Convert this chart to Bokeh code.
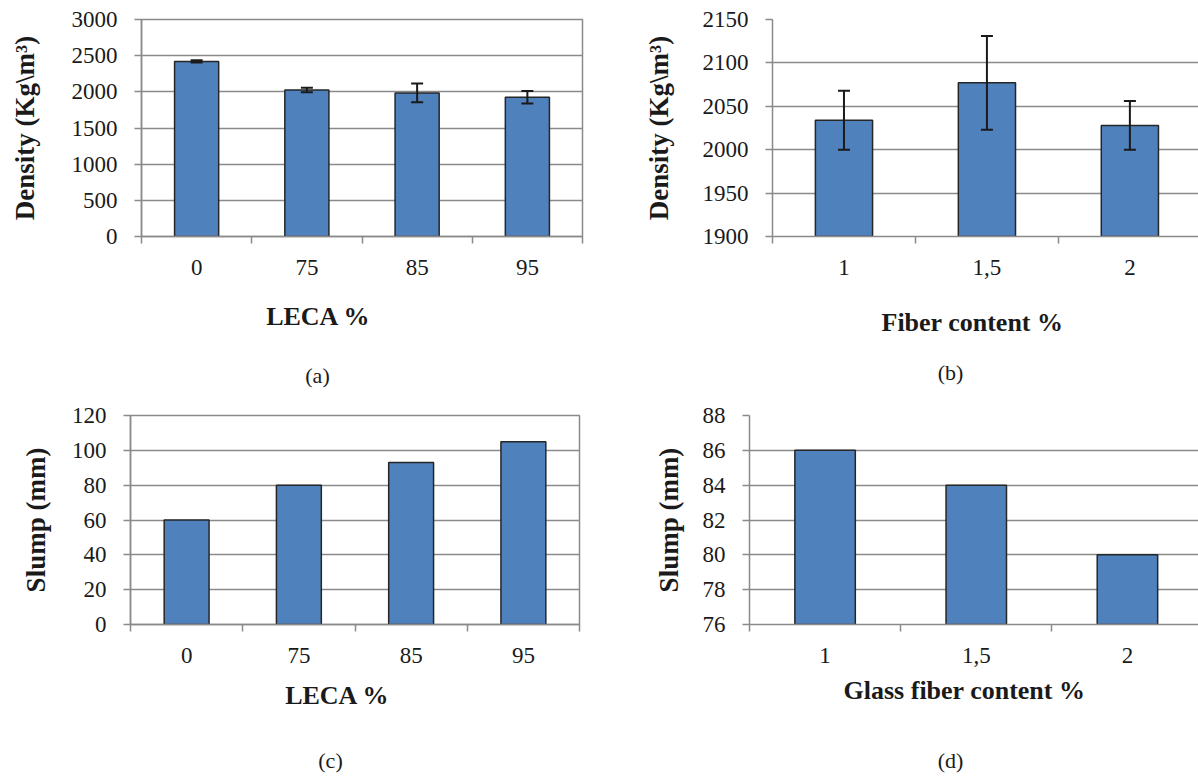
from bokeh.plotting import figure
from bokeh.models import ColumnDataSource, FixedTicker, Whisker, TeeHead, Label, Range1d
from bokeh.layouts import column, row
from bokeh.embed import file_html
from bokeh.resources import INLINE

# ---- data ----
leca_cats = ["0", "75", "85", "95"]
leca_density = [2420, 2025, 1985, 1925]
leca_density_err = [15, 30, 130, 85]
fiber_cats = ["1", "1,5", "2"]
fiber_density = [2034, 2077, 2028]
fiber_density_err = [34, 54, 28]
leca_slump = [60, 80, 93, 105]
glass_slump = [86, 84, 80]

density_a_ticks = [0, 500, 1000, 1500, 2000, 2500, 3000]
density_b_ticks = [1900, 1950, 2000, 2050, 2100, 2150]
slump_c_ticks = [0, 20, 40, 60, 80, 100, 120]
slump_d_ticks = [76, 78, 80, 82, 84, 86, 88]

FONT = "Liberation Serif"
GRID = "#8a8a8a"
BAR = "#4F81BD"
EDGE = "#262626"
TXT = "#1a1a1a"


def chart(cats, vals, yticks, ylabel, errs=None, *,
          fw, fh, bl, bt, br, bb, x_end, ystand, outline):
    p = figure(frame_width=fw, frame_height=fh,
               x_range=Range1d(0, x_end), y_range=Range1d(yticks[0], yticks[-1]),
               output_backend="svg", toolbar_location=None,
               min_border_left=bl, min_border_right=br,
               min_border_top=bt, min_border_bottom=bb)
    p.background_fill_color = "white"
    p.border_fill_color = "white"
    p.outline_line_color = GRID if outline else None
    p.outline_line_width = 1.5

    xs = [i + 0.5 for i in range(len(cats))]
    data = dict(x=xs, top=vals)
    if errs is not None:
        data["upper"] = [v + e for v, e in zip(vals, errs)]
        data["lower"] = [v - e for v, e in zip(vals, errs)]
    src = ColumnDataSource(data)
    p.vbar(x="x", top="top", bottom=yticks[0], width=0.4, source=src,
           fill_color=BAR, line_color=EDGE, line_width=1.5)
    if errs is not None:
        w = Whisker(base="x", upper="upper", lower="lower", source=src, level="overlay",
                    line_color=TXT, line_width=2,
                    upper_head=TeeHead(size=12, line_color=TXT, line_width=2),
                    lower_head=TeeHead(size=12, line_color=TXT, line_width=2))
        p.add_layout(w)

    xa = p.xaxis[0]
    xa.ticker = FixedTicker(ticks=xs, minor_ticks=list(range(len(cats) + 1)))
    xa.major_label_overrides = {x: c for x, c in zip(xs, cats)}
    xa.major_tick_line_color = None
    xa.major_tick_out = 7
    xa.major_tick_in = 0
    xa.minor_tick_out = 7
    xa.minor_tick_in = 0
    xa.minor_tick_line_color = GRID
    xa.minor_tick_line_width = 1.5
    xa.axis_line_color = GRID
    xa.axis_line_width = 1.5
    xa.major_label_standoff = 16
    xa.major_label_text_font = FONT
    xa.major_label_text_font_size = "23px"
    xa.major_label_text_color = TXT

    ya = p.yaxis[0]
    ya.ticker = FixedTicker(ticks=yticks)
    ya.major_tick_out = 7
    ya.major_tick_in = 0
    ya.minor_tick_line_color = None
    ya.major_tick_line_color = GRID
    ya.major_tick_line_width = 1.5
    ya.axis_line_color = GRID
    ya.axis_line_width = 1.5
    ya.major_label_standoff = 17
    ya.major_label_text_font = FONT
    ya.major_label_text_font_size = "23px"
    ya.major_label_text_color = TXT
    ya.axis_label = ylabel
    ya.axis_label_text_font = FONT
    ya.axis_label_text_font_size = "27px"
    ya.axis_label_text_font_style = "bold"
    ya.axis_label_text_color = TXT
    ya.axis_label_standoff = ystand

    p.xgrid.visible = False
    p.ygrid.grid_line_color = GRID
    p.ygrid.grid_line_width = 1.5
    return p


def captions(width, height, title, title_xy, cap, cap_xy):
    t = figure(width=width, height=height, x_range=Range1d(0, width), y_range=Range1d(0, height),
               x_axis_type=None, y_axis_type=None, output_backend="svg", toolbar_location=None,
               min_border=0)
    t.outline_line_color = None
    t.background_fill_color = "white"
    t.border_fill_color = "white"
    t.grid.visible = False
    t.add_layout(Label(x=title_xy[0], y=title_xy[1], text=title, text_font=FONT,
                       text_font_size="26px", text_font_style="bold", text_color=TXT,
                       text_align="center", text_baseline="middle"))
    t.add_layout(Label(x=cap_xy[0], y=cap_xy[1], text=cap, text_font=FONT,
                       text_font_size="22px", text_color=TXT,
                       text_align="center", text_baseline="middle"))
    return t


pa = chart(leca_cats, leca_density, density_a_ticks, "Density (Kg\\m³)", leca_density_err,
           fw=441, fh=217, bl=141, bt=19, br=18, bb=52, x_end=4, ystand=29, outline=True)
pb = chart(fiber_cats, fiber_density, density_b_ticks, "Density (Kg\\m³)", fiber_density_err,
           fw=426, fh=217, bl=172, bt=19, br=0, bb=52, x_end=2.98, ystand=26, outline=False)
pc = chart(leca_cats, leca_slump, slump_c_ticks, "Slump (mm)", None,
           fw=449, fh=209, bl=130, bt=22, br=21, bb=52, x_end=4, ystand=18, outline=True)
pd_ = chart(fiber_cats, glass_slump, slump_d_ticks, "Slump (mm)", None,
            fw=449, fh=209, bl=149, bt=22, br=0, bb=52, x_end=2.97, ystand=16, outline=False)

ta = captions(600, 105, "LECA %", (318, 77), "(a)", (317, 18))
tb = captions(598, 105, "Fiber content %", (372, 71), "(b)", (350, 21))
tc = captions(600, 101, "LECA %", (337, 82), "(c)", (330, 17))
td = captions(598, 101, "Glass fiber content %", (364, 87), "(d)", (350, 17))

layout = column(row(pa, pb), row(ta, tb), row(pc, pd_), row(tc, td))
open("out.html", "w").write(file_html(layout, INLINE))
